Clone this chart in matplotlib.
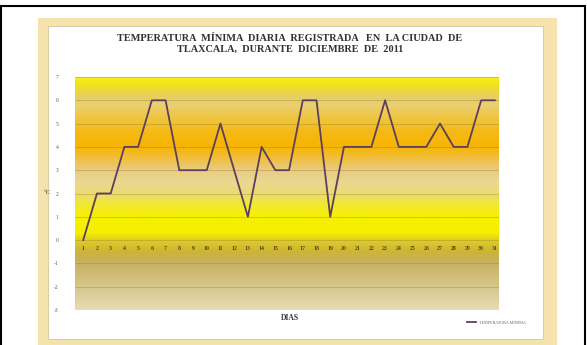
import numpy as np
import matplotlib
matplotlib.use("Agg")
import matplotlib.pyplot as plt
from matplotlib.colors import LinearSegmentedColormap
from matplotlib.patches import Rectangle

# Minimum daily temperature, Tlaxcala, December 2011
dias = list(range(1, 32))
temp_min = [0, 2, 2, 4, 4, 6, 6, 3, 3, 3, 5, 3, 1, 4, 3, 3,
            6, 6, 1, 4, 4, 4, 6, 4, 4, 4, 5, 4, 4, 6, 6]
y_ticks = list(range(-3, 8))

titulo = ("TEMPERATURA  MÍNIMA  DIARIA  REGISTRADA   EN  LA CIUDAD  DE\n"
          "TLAXCALA,  DURANTE  DICIEMBRE  DE  2011")

fig = plt.figure(figsize=(5.87, 3.45), dpi=100)
fig.patch.set_facecolor("white")

# outer black frame and beige picture border
fig.add_artist(Rectangle((0.002, -0.01), 0.994, 0.992, transform=fig.transFigure,
                         fill=False, edgecolor="black", linewidth=1.5, zorder=-3))
fig.add_artist(Rectangle((38 / 587, 0), (557 - 38) / 587, (345 - 18) / 345,
                         transform=fig.transFigure, facecolor="#f6e2ac",
                         edgecolor="none", zorder=-2))
fig.add_artist(Rectangle((48 / 587, 6 / 345), (543 - 48) / 587, (345 - 26 - 6) / 345,
                         transform=fig.transFigure, facecolor="white",
                         edgecolor="#d8cfa8", linewidth=0.8, zorder=-1))

ax = fig.add_axes([75 / 587, 35 / 345, 424 / 587, 233 / 345])
ax.set_zorder(2)
ax.set_xlim(0.4, 31.3)
ax.set_ylim(-3, 7)

# vertical gradient behind the plot
stops = [(-3.0, "#e6dcb4"), (-2.0, "#d6c68a"), (-1.0, "#c9b262"),
         (-0.5, "#ccb438"), (0.0, "#e2ce22"), (0.3, "#f6ee02"),
         (1.0, "#f6f000"), (1.5, "#f2e930"), (2.0, "#ecdb72"),
         (2.5, "#ebd792"), (3.0, "#e9cc80"), (3.5, "#f0c044"),
         (4.0, "#f7b402"), (4.6, "#f6b812"), (5.2, "#f0c43a"),
         (5.8, "#ead070"), (6.2, "#e6cf62"), (6.6, "#f2de24"),
         (7.0, "#f7ee10")]
cmap = LinearSegmentedColormap.from_list(
    "fondo", [((v + 3) / 10, c) for v, c in stops])
grad = np.linspace(-3, 7, 400).reshape(-1, 1)
ax.imshow(grad, cmap=cmap, vmin=-3, vmax=7, origin="lower", aspect="auto",
          extent=[0.4, 31.3, -3, 7], zorder=0)

for v in y_ticks:
    ax.axhline(v, color="#8a7838", linewidth=0.6, alpha=0.4, zorder=1)

ax.plot(dias, temp_min, color="#5a3f5e", linewidth=1.3, zorder=3,
        label="TEMPERATURA MINIMA")

for s in ax.spines.values():
    s.set_visible(False)
ax.set_yticks(y_ticks)
ax.set_yticklabels([str(v) for v in y_ticks], fontsize=4, color="#555555",
                   family="Liberation Serif")
ax.tick_params(axis="y", length=0, pad=12)
ax.set_xticks([])

# day labels sit just under the zero line
for d in dias:
    ax.text(d, -0.35, str(d), ha="center", va="center", fontsize=4.2,
            color="#5a4a10", family="Liberation Serif", fontweight="bold",
            zorder=4)

fig.text(47 / 587, 1 - 193 / 345, "°C", fontsize=5, color="#444444",
         family="Liberation Serif", ha="center", va="center")

fig.text(290 / 587, 1 - 44 / 345, titulo, ha="center", va="center",
         fontsize=7.4, fontweight="bold", family="Liberation Serif",
         color="#333333", linespacing=1.25)
fig.text(290 / 587, 1 - 318 / 345, "DIAS", ha="center", va="center",
         fontsize=5.5, fontweight="bold", family="Liberation Serif",
         color="#333333")

leg = ax.legend(loc="lower right", bbox_to_anchor=(528 / 587, 18 / 345),
                bbox_transform=fig.transFigure, frameon=False,
                prop={"family": "Liberation Serif", "size": 3},
                handlelength=2, borderpad=0)
for t in leg.get_texts():
    t.set_color("#666666")

fig.savefig("out.png", dpi=100)
